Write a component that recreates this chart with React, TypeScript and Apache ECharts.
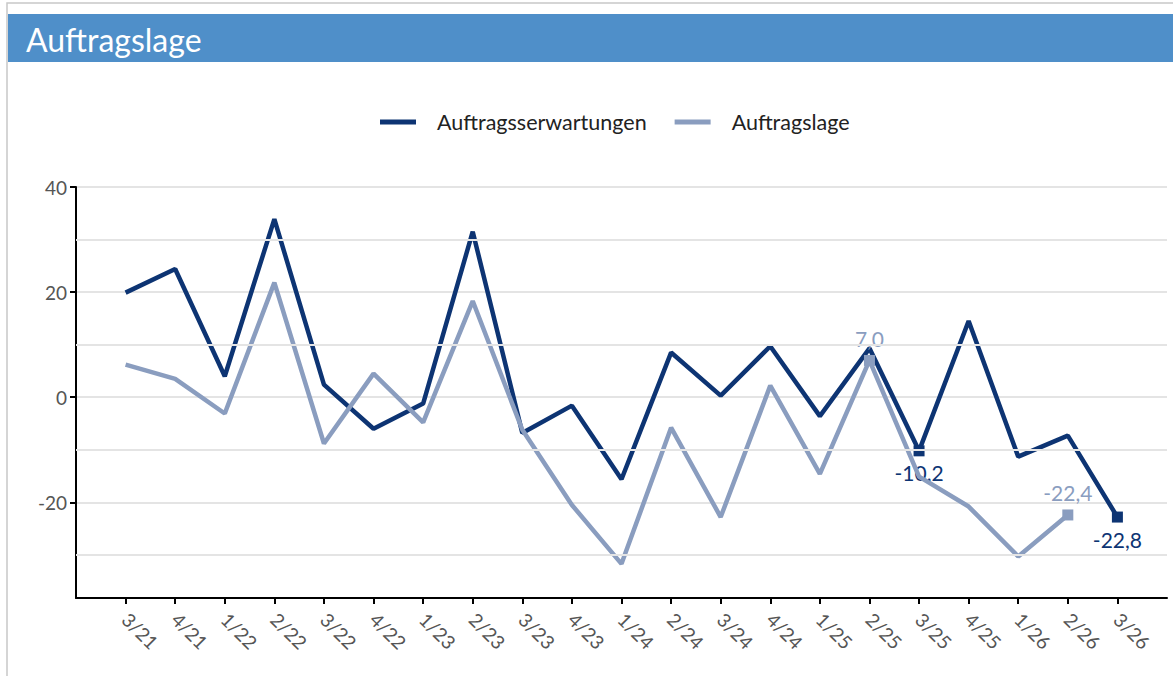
import React, { useEffect, useRef } from "react";
import * as echarts from "echarts";

const categories = ["", "3/21", "4/21", "1/22", "2/22", "3/22", "4/22", "1/23", "2/23", "3/23", "4/23", "1/24", "2/24", "3/24", "4/24", "1/25", "2/25", "3/25", "4/25", "1/26", "2/26", "3/26", ""];
const erwartungen: (number | null)[] = [null, 19.9, 24.4, 4.0, 33.9, 2.4, -6.0, -1.2, 31.5, -6.8, -1.6, -15.6, 8.5, 0.3, 9.7, -3.6, 9.3, -10.2, 14.5, -11.3, -7.3, -22.8, null];
const auftragslage: (number | null)[] = [null, 6.2, 3.5, -3.1, 21.8, -8.8, 4.5, -4.8, 18.3, -6.2, -20.5, -31.7, -5.8, -22.8, 2.2, -14.6, 7.0, -15.1, -20.8, -30.3, -22.4, null, null];
const erwartungenLabelled = [17, 21];
const auftragslageLabelled = [16, 20];
const yLabelTicks = [40, 20, 0, -20];
const yMinorGrid = [30, 10, -10, -30];

const DARK = "#0D3473";
const LIGHT = "#8A9DBF";
const GRID = "#e4e4e4";
const FONT = "Lato, 'Open Sans', sans-serif";

const fmt = (v: number) => v.toFixed(1).replace(".", ",");

function build(values: (number | null)[], labelled: number[], color: string, pos: string) {
  return values.map((v, i) => {
    if (v === null) return null;
    if (labelled.indexOf(i) >= 0) {
      return {
        value: v,
        symbol: "rect",
        symbolSize: 11,
        label: {
          show: true,
          position: pos,
          distance: 6,
          formatter: (p: any) => fmt(p.value),
          color,
          fontSize: 21,
          fontFamily: FONT,
        },
      };
    }
    return { value: v, symbolSize: 0 };
  });
}

export default function App() {
  const ref = useRef<HTMLDivElement>(null);
  useEffect(() => {
    const chart = echarts.init(ref.current!, null, { renderer: "svg" });
    chart.setOption({
      animation: false,
      textStyle: { fontFamily: FONT },
      graphic: [
        { type: "rect", shape: { x: 7, y: 3, width: 1200, height: 700 }, style: { fill: "#fff", stroke: "#c8c8c8", lineWidth: 1.5 }, z: -10 },
        { type: "rect", shape: { x: 8, y: 14, width: 1170, height: 48 }, style: { fill: "#4F8FC9" }, z: -5 },
        { type: "text", x: 26, y: 39, style: { text: "Auftragslage", fill: "#fff", fontSize: 32, fontFamily: FONT, verticalAlign: "middle" } },
      ],
      legend: {
        left: 375,
        top: 106,
        itemWidth: 36,
        itemHeight: 5,
        itemGap: 28,
        icon: "rect",
        textStyle: { fontSize: 21.5, color: "#222", fontFamily: FONT, padding: [0, 0, 0, 16] },
        data: ["Auftragsserwartungen", "Auftragslage"],
      },
      grid: { left: 76, right: 6, top: 187, bottom: 78, containLabel: false },
      xAxis: {
        type: "category",
        data: categories,
        boundaryGap: false,
        axisLine: { onZero: false, lineStyle: { color: "#000", width: 2 } },
        axisTick: { length: 6, lineStyle: { color: "#000", width: 2 }, interval: (i: number) => i > 0 && i < categories.length - 1 },
        axisLabel: { rotate: -45, interval: 0, color: "#555", fontSize: 19, fontFamily: FONT, margin: 18 },
        splitLine: { show: false },
      },
      yAxis: {
        type: "value",
        min: -38.2,
        max: 40,
        axisLine: { show: true, lineStyle: { color: "#000", width: 2 } },
        axisTick: { show: true, length: 6, lineStyle: { color: "#000", width: 2 }, customValues: yLabelTicks },
        axisLabel: { color: "#555", fontSize: 19, fontFamily: FONT, margin: 9, customValues: yLabelTicks },
        splitLine: { show: true, lineStyle: { color: GRID, width: 2 } },
      },
      series: [
        {
          name: "grid",
          type: "line",
          data: [],
          silent: true,
          z: 1,
          markLine: {
            silent: true,
            symbol: "none",
            label: { show: false },
            lineStyle: { color: GRID, width: 2, type: "solid" },
            data: yMinorGrid.map((v) => ({ yAxis: v })),
          },
        },
        {
          name: "Auftragsserwartungen",
          type: "line",
          data: build(erwartungen, erwartungenLabelled, DARK, "bottom"),
          symbol: "rect",
          symbolSize: 0,
          lineStyle: { color: DARK, width: 4.5 },
          itemStyle: { color: DARK },
          z: 3,
        },
        {
          name: "Auftragslage",
          type: "line",
          data: build(auftragslage, auftragslageLabelled, LIGHT, "top"),
          symbol: "rect",
          symbolSize: 0,
          lineStyle: { color: LIGHT, width: 4.5 },
          itemStyle: { color: LIGHT },
          z: 4,
        },
      ],
    });
    return () => chart.dispose();
  }, []);
  return <div ref={ref} style={{ position: "absolute", left: 0, top: 0, width: 1173, height: 676 }} />;
}
